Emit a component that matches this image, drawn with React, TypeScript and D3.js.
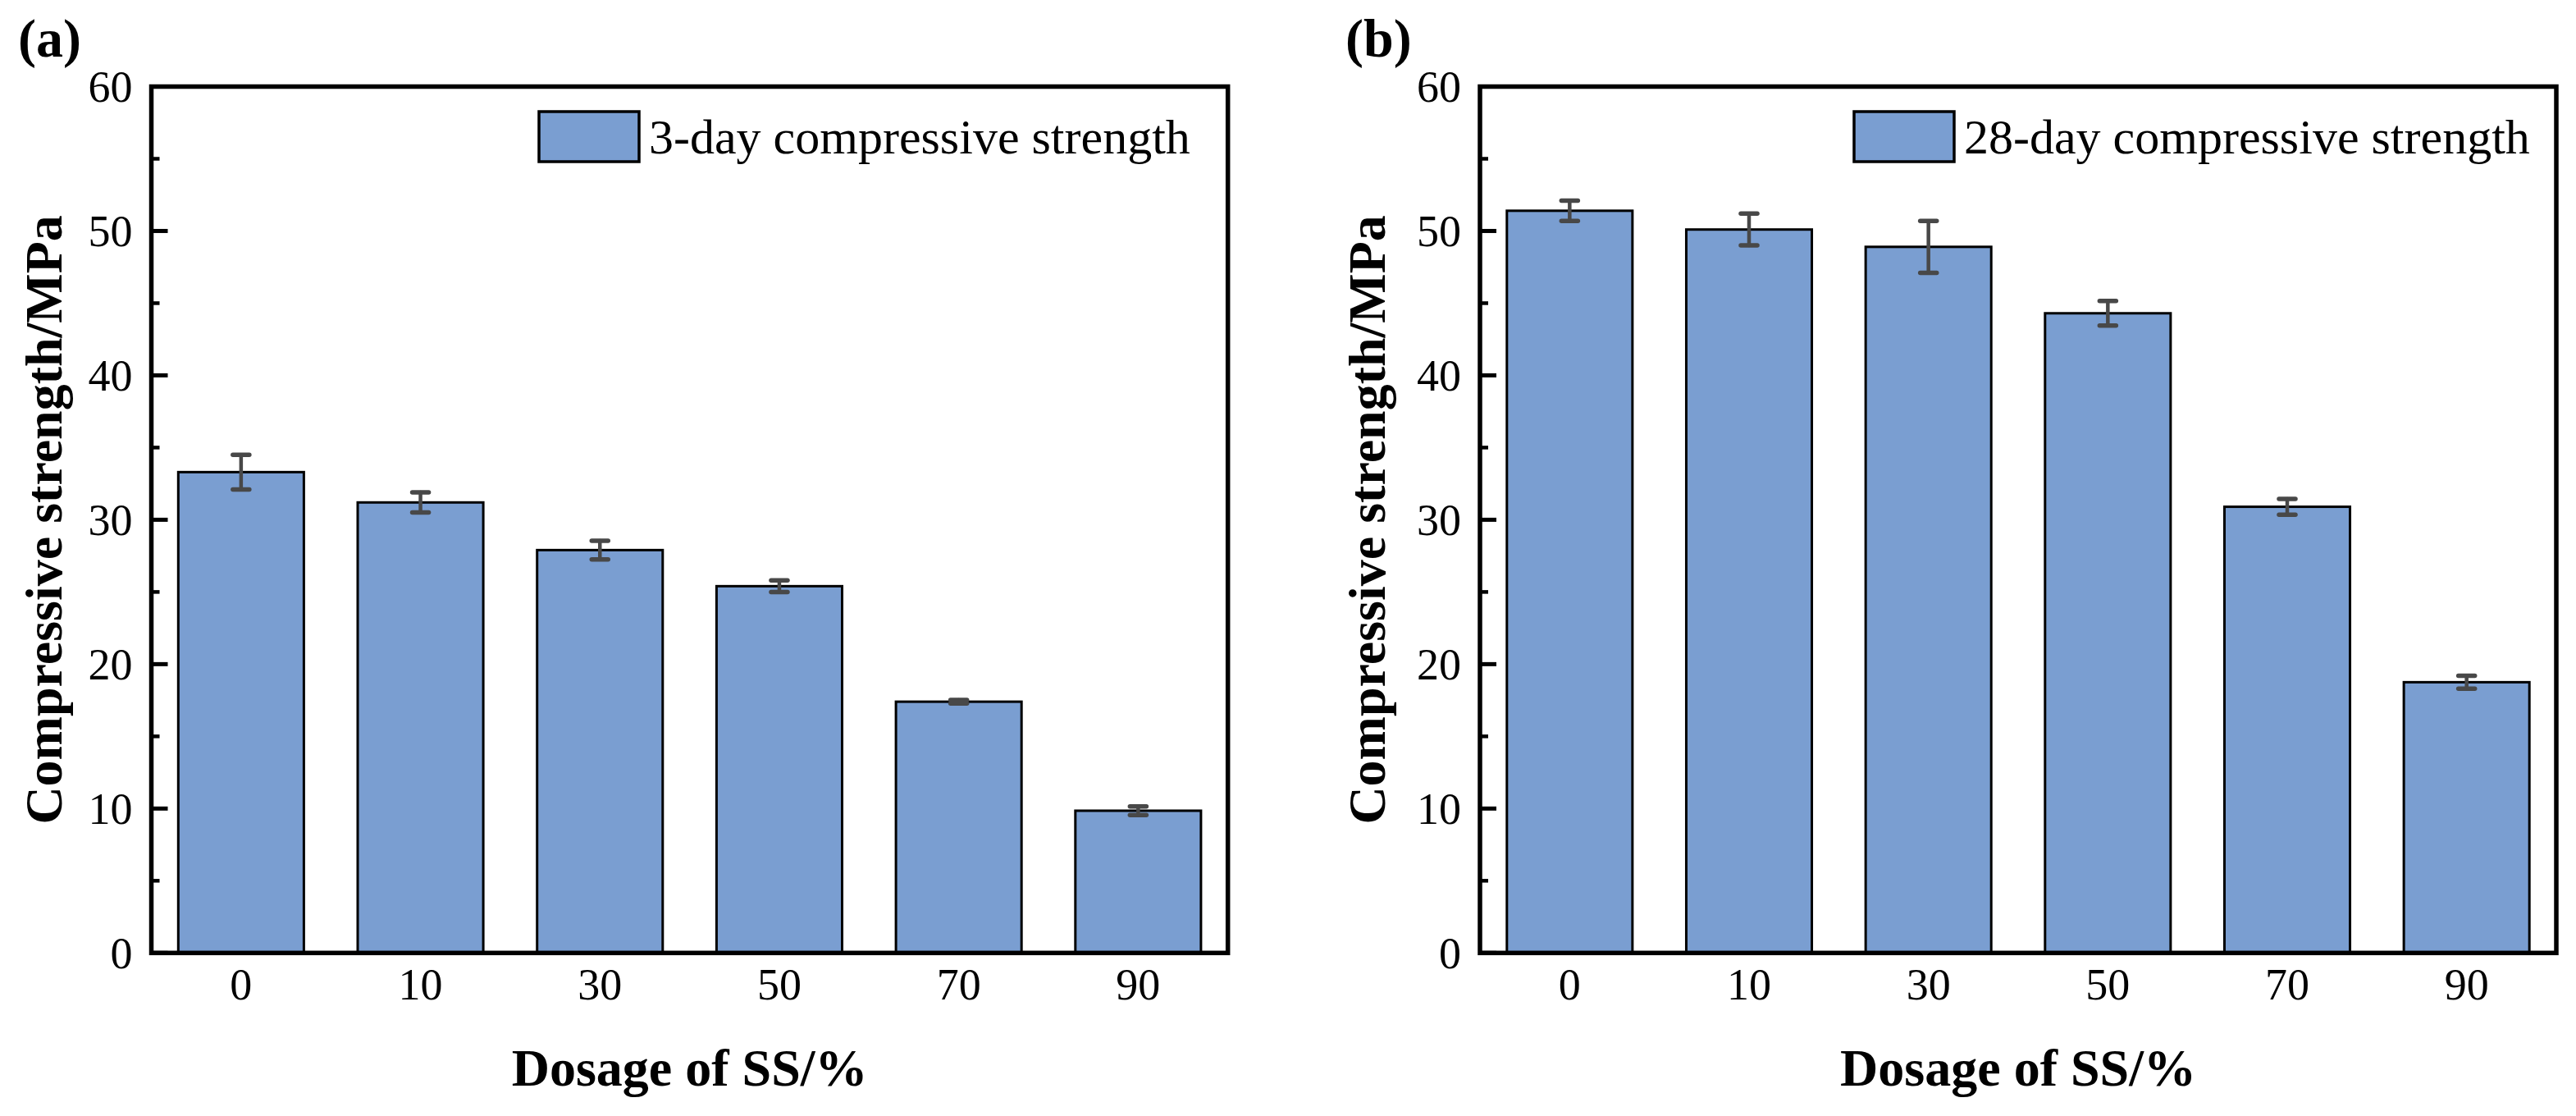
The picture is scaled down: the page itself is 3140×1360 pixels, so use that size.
import * as d3 from "d3";

const dosage = ["0", "10", "30", "50", "70", "90"];
const strength3d = [33.3, 31.2, 27.9, 25.4, 17.4, 9.85];
const error3d = [1.2, 0.7, 0.65, 0.4, 0.12, 0.3];
const strength28d = [51.4, 50.1, 48.9, 44.3, 30.9, 18.75];
const error28d = [0.7, 1.1, 1.8, 0.85, 0.55, 0.45];
const yMajor = [0, 10, 20, 30, 40, 50, 60];
const yMinor = [5, 15, 25, 35, 45, 55];

const W = 3140, H = 1360;
const TOP = 105.5, BOTTOM = 1161.3;
const FONT = '"Times New Roman", "Liberation Serif", serif';
const BAR_FILL = "#7a9ed1";
const ERR_COLOR = "#484848";

interface PanelProps {
  tag: string;
  legend: string;
  values: number[];
  errors: number[];
  x0: number;
  x1: number;
  tagX: number;
  titleX: number;
  legendX: number;
}

function Panel({ tag, legend, values, errors, x0, x1, tagX, titleX, legendX }: PanelProps) {
  const x = d3.scaleBand<string>().domain(dosage).range([x0, x1])
    .paddingInner(0.3).paddingOuter(0.15);
  const y = d3.scaleLinear().domain([0, 60]).range([BOTTOM, TOP]);
  const bw = x.bandwidth();
  const midY = (TOP + BOTTOM) / 2;
  const midX = (x0 + x1) / 2;

  return (
    <g>
      {/* bars */}
      {values.map((v, i) => (
        <rect key={"b" + i}
          x={x(dosage[i])} y={y(v)} width={bw} height={BOTTOM - y(v)}
          fill={BAR_FILL} stroke="#000" strokeWidth={3} />
      ))}

      {/* error bars */}
      {values.map((v, i) => {
        const cx = (x(dosage[i]) as number) + bw / 2;
        const hi = y(v + errors[i]), lo = y(v - errors[i]);
        return (
          <g key={"e" + i} stroke={ERR_COLOR} strokeLinecap="round">
            <line x1={cx} x2={cx} y1={hi} y2={lo} strokeWidth={4.5} />
            <line x1={cx - 10} x2={cx + 10} y1={hi} y2={hi} strokeWidth={5.5} />
            <line x1={cx - 10} x2={cx + 10} y1={lo} y2={lo} strokeWidth={5.5} />
          </g>
        );
      })}

      {/* frame */}
      <rect x={x0} y={TOP} width={x1 - x0} height={BOTTOM - TOP}
        fill="none" stroke="#000" strokeWidth={5.5} />

      {/* y ticks, inward */}
      {yMajor.map(t => (
        <line key={"M" + t} x1={x0} x2={x0 + 20} y1={y(t)} y2={y(t)}
          stroke="#000" strokeWidth={5} />
      ))}
      {yMinor.map(t => (
        <line key={"m" + t} x1={x0} x2={x0 + 10} y1={y(t)} y2={y(t)}
          stroke="#000" strokeWidth={4.5} />
      ))}
      {yMajor.map(t => (
        <text key={"l" + t} x={x0 - 23} y={y(t)} dy="0.35em"
          textAnchor="end" fontSize={54} fontFamily={FONT}>{t}</text>
      ))}

      {/* x tick labels */}
      {dosage.map(d => (
        <text key={"x" + d} x={(x(d) as number) + bw / 2} y={1218}
          textAnchor="middle" fontSize={54} fontFamily={FONT}>{d}</text>
      ))}

      {/* axis titles */}
      <text x={midX} y={1323} textAnchor="middle" fontSize={64}
        fontWeight="bold" fontFamily={FONT}>Dosage of SS/%</text>
      <text x={titleX} y={midY} textAnchor="middle" fontSize={64}
        fontWeight="bold" fontFamily={FONT}
        transform={`rotate(-90,${titleX},${midY})`}>Compressive strength/MPa</text>

      {/* legend */}
      <rect x={legendX} y={136} width={122} height={61}
        fill={BAR_FILL} stroke="#000" strokeWidth={3.5} />
      <text x={legendX + 134} y={187} fontSize={60} fontFamily={FONT}>{legend}</text>

      {/* panel tag */}
      <text x={tagX} y={69} fontSize={66} fontWeight="bold" fontFamily={FONT}>{tag}</text>
    </g>
  );
}

export default function App() {
  return (
    <svg width={W} height={H} viewBox={`0 0 ${W} ${H}`}
      style={{ position: "absolute", left: 0, top: 0, background: "#fff", display: "block" }}>
      <rect width={W} height={H} fill="#fff" />
      <Panel tag="(a)" legend="3-day compressive strength"
        values={strength3d} errors={error3d}
        x0={184.5} x1={1496.7} tagX={22} titleX={75} legendX={657} />
      <Panel tag="(b)" legend="28-day compressive strength"
        values={strength28d} errors={error28d}
        x0={1804} x1={3116} tagX={1640} titleX={1688} legendX={2260} />
    </svg>
  );
}
